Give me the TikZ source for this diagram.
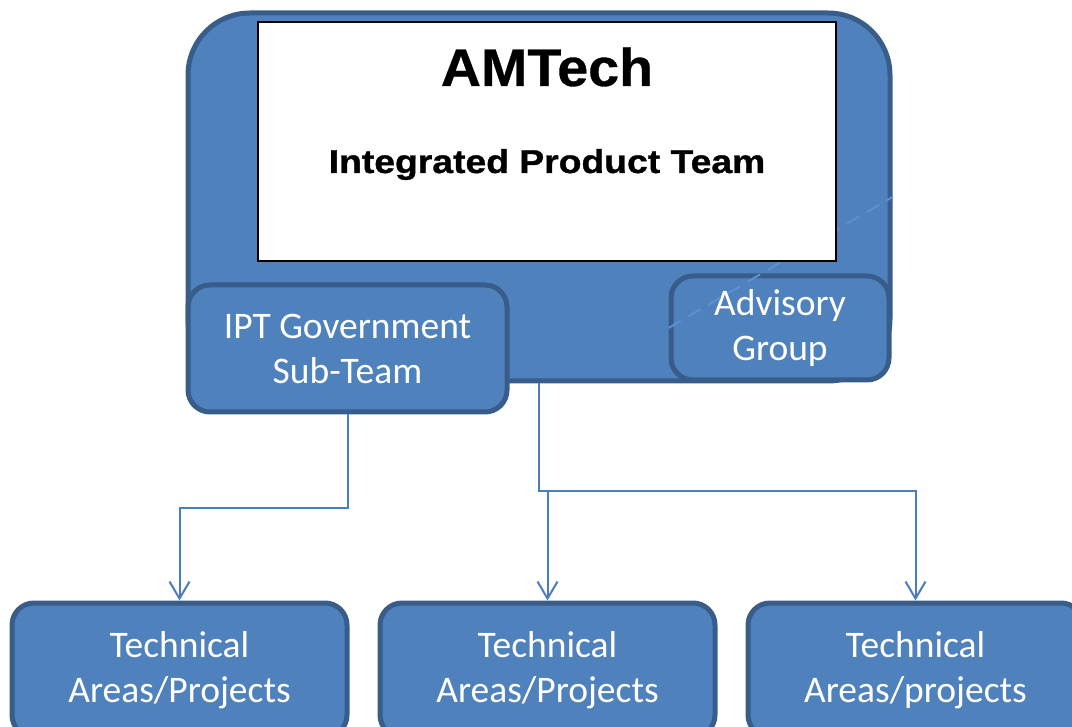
\documentclass[tikz,border=0pt]{standalone}
\usepackage{fontspec}
\setmainfont{Carlito}
\newfontfamily\headfont[FakeStretch=1.05, FakeBold=0.6]{Liberation Sans}
\newfontfamily\subheadfont[FakeStretch=1.13, FakeBold=1]{Liberation Sans}
\usepackage{tikz}
\usetikzlibrary{arrows.meta, positioning}
\definecolor{boxfill}{HTML}{4F81BD}
\definecolor{boxedge}{HTML}{385D8A}
\definecolor{linkcolor}{HTML}{4A7EBB}
\definecolor{ghost}{HTML}{5B90D2}

\begin{document}
\begin{tikzpicture}[
    x=1pt, y=-1pt,
    team/.style={rectangle, rounded corners=#1, draw=boxedge, line width=5pt,
                fill=boxfill, text=white, align=center, inner sep=0pt,
                font=\fontsize{37.5}{45}\selectfont},
    team/.default=22pt,
    link/.style={-{Straight Barb[length=17pt, width=20pt]}, line width=2pt, color=linkcolor},
    heading/.style={font=#1, anchor=base}
]
\useasboundingbox (0,0) rectangle (1072,727);

% IPT frame
\node[team=62pt, minimum width=702pt, minimum height=368pt] (amtech) at (539,197) {};
\node[team, minimum width=218pt, minimum height=104pt] (advisory) at (780,328) {Advisory\\Group};
\node[team, minimum width=319pt, minimum height=127pt] (govteam) at (347.5,348.5) {IPT Government\\Sub-Team};

% hidden link
\draw[ghost, line width=2pt, dash pattern=on 14pt off 9pt] (advisory.west) -- (amtech.east);

% Title panel
\node[draw=black, line width=1.5pt, fill=white, minimum width=578pt, minimum height=239pt] (banner) at (547,141.5) {};
\node[heading=\headfont\bfseries\fontsize{53}{53}\selectfont] (title) at (547,86) {AMTech};
\node[heading=\subheadfont\bfseries\fontsize{33}{33}\selectfont] (subtitle) at (547,173) {Integrated Product Team};

% Technical areas
\node[team, minimum width=335pt, minimum height=134pt] (areas1) at (179.5,670) {Technical\\Areas/Projects};
\node[team, minimum width=335pt, minimum height=134pt, right=28pt of areas1] (areas2) {Technical\\Areas/Projects};
\node[team, minimum width=335pt, minimum height=134pt, right=28pt of areas2] (areas3) {Technical\\Areas/projects};

% Links
\coordinate (govbend) at ([yshift=-93.5pt]govteam.south);
\coordinate (split) at ([yshift=-107.5pt]amtech.south);
\draw[link] (govteam.south) -- (govbend) -| (areas1.north);
\draw[link] (amtech.south) -- (split) -| (areas2.north);
\draw[link] (split) -| (areas3.north);

\end{tikzpicture}
\end{document}
